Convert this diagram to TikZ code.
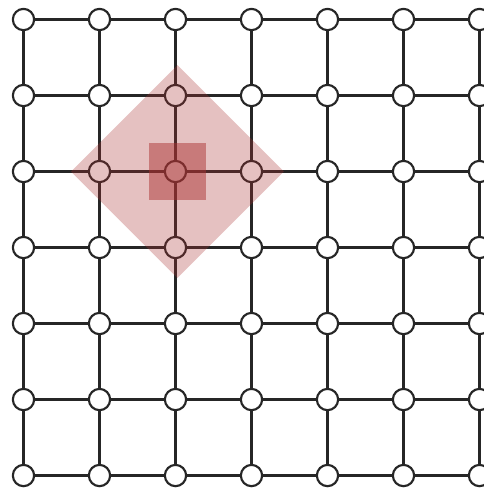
\documentclass[tikz,border=0pt]{standalone}
\usetikzlibrary{calc}
\definecolor{gridgray}{HTML}{262626}
\definecolor{hotred}{HTML}{AA3232}

\begin{document}
\begin{tikzpicture}[
    line width=0.8pt,
    site/.style    = {circle, draw=gridgray, fill=white, line width=0.8pt,
                      minimum size=2.8mm, inner sep=0pt},
    bond/.style    = {draw=gridgray, line width=0.8pt},
    neighbor/.style= {fill=hotred, fill opacity=0.3},
    centre/.style  = {fill=hotred, fill opacity=0.5},
  ]
  \useasboundingbox (-0.309,-0.164) rectangle (6.059,6.257);

  % --- Lattice sites ---------------------------------------------------
  \foreach \i in {0,...,6}{
    \foreach \j in {0,...,6}{
      \coordinate (p-\i-\j) at (\i,6-\j);
    }
  }

  % --- Bonds -----------------------------------------------------------
  \foreach \i in {0,...,6}{
    \foreach \j [evaluate=\j as \k using int(\j+1)] in {0,...,5}{
      \draw[bond] (p-\i-\j) -- (p-\i-\k);
      \draw[bond] (p-\j-\i) -- (p-\k-\i);
    }
  }

  \foreach \i in {0,...,6}{
    \foreach \j in {0,...,6}{
      \node[site] (n-\i-\j) at (p-\i-\j) {};
    }
  }

  % --- Neighbourhood of site (2,2) -------------------------------------
  \coordinate (mid) at ($(n-2-2)+(0.025,0)$);
  \path[neighbor] ($(mid)+(-1.4,0)$) -- ($(mid)+(0,1.4)$)
    -- ($(mid)+(1.4,0)$) -- ($(mid)+(0,-1.4)$) -- cycle;
  \path[centre] ($(mid)+(-0.37,-0.37)$) rectangle ($(mid)+(0.37,0.37)$);

\end{tikzpicture}
\end{document}
